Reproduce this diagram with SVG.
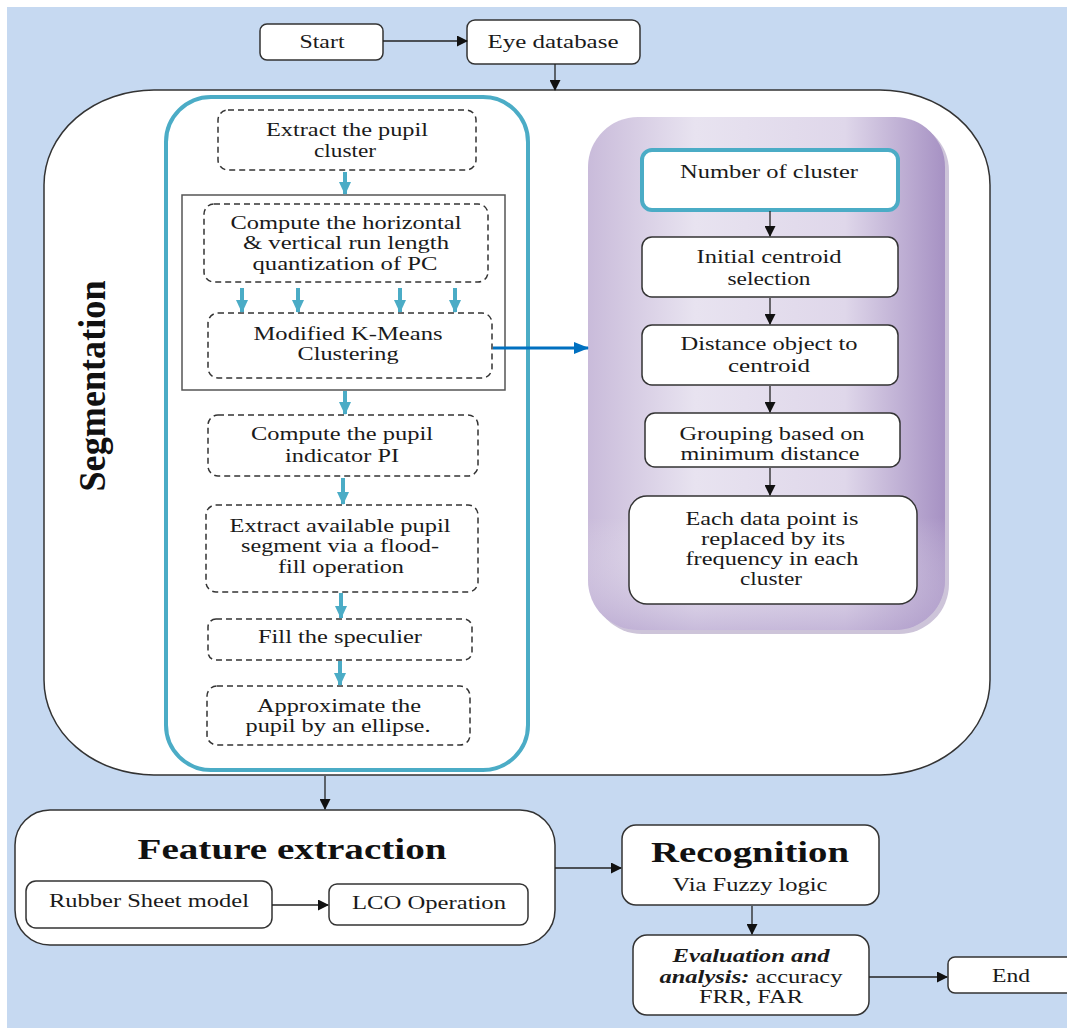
<svg xmlns="http://www.w3.org/2000/svg" width="1067" height="1028" viewBox="0 0 1067 1028">
<defs>
<style>
.t{font-family:"Liberation Serif","Times New Roman",serif;font-size:18px;fill:#1a1a1a;text-anchor:middle}
.h{font-family:"Liberation Serif","Times New Roman",serif;font-weight:bold;font-size:30px;fill:#111;text-anchor:middle}
.b{stroke:#333;stroke-width:1.5;fill:#fff}
.d{stroke:#333;stroke-width:1.5;fill:#fff;stroke-dasharray:6 4}
.c{stroke:#222;stroke-width:1.3;fill:none;marker-end:url(#ah)}
.cy{stroke:#4bacc6;stroke-width:4;fill:none;marker-end:url(#ac)}
</style>
<marker id="ah" markerWidth="11" markerHeight="11" refX="10" refY="5.5" orient="auto" markerUnits="userSpaceOnUse"><path d="M0,0 L11,5.5 L0,11 z" fill="#111"/></marker>
<marker id="ac" markerWidth="14" markerHeight="12" refX="12" refY="6" orient="auto" markerUnits="userSpaceOnUse"><path d="M0,0 L13,6 L0,12 z" fill="#4bacc6"/></marker>
<marker id="ab" markerWidth="16" markerHeight="12" refX="14" refY="6" orient="auto" markerUnits="userSpaceOnUse"><path d="M0,0 L15,6 L0,12 z" fill="#0070c0"/></marker>
<linearGradient id="pg" x1="0" y1="0" x2="1" y2="0">
<stop offset="0" stop-color="#c9bbda"/>
<stop offset="0.3" stop-color="#e8e3f0"/>
<stop offset="0.72" stop-color="#dfd7ea"/>
<stop offset="1" stop-color="#a691c3"/>
</linearGradient>
<linearGradient id="pg2" x1="0" y1="0" x2="0" y2="1">
<stop offset="0.78" stop-color="#ffffff" stop-opacity="0"/>
<stop offset="1" stop-color="#b3a1cd" stop-opacity="0.6"/>
</linearGradient>
</defs>
<rect x="0" y="0" width="1067" height="1028" fill="#fff"/>
<rect x="7" y="7" width="1060" height="1021" fill="#c6d9f1"/>

<g id="start"><rect class="b" x="260" y="24" width="123" height="36" rx="7"/><text class="t" x="322" y="48" textLength="45" lengthAdjust="spacingAndGlyphs">Start</text></g>
<g id="eye-database"><rect class="b" x="467" y="20" width="173" height="44" rx="8"/><text class="t" x="553" y="48" textLength="131" lengthAdjust="spacingAndGlyphs">Eye database</text></g>

<g id="segmentation">
<rect x="44" y="90" width="946" height="685" rx="110" ry="95" fill="#fff" stroke="#333" stroke-width="1.5"/>
<text x="0" y="0" transform="translate(105,386) rotate(-90)" font-family="'Liberation Serif','Times New Roman',serif" font-weight="bold" font-size="37" text-anchor="middle" fill="#111" textLength="211" lengthAdjust="spacingAndGlyphs">Segmentation</text>
</g>

<g id="left-panel"><rect x="166" y="97" width="362" height="673" rx="45" fill="#fff" stroke="#4bacc6" stroke-width="4"/></g>

<g id="extract-pupil-cluster"><rect class="d" x="218" y="110" width="258" height="60" rx="10"/><text class="t" x="347" y="136" textLength="162" lengthAdjust="spacingAndGlyphs">Extract the pupil</text><text class="t" x="345" y="157" textLength="62" lengthAdjust="spacingAndGlyphs">cluster</text></g>
<g id="run-length-group"><rect x="182" y="195" width="323" height="195" fill="none" stroke="#555" stroke-width="1.5"/></g>
<g id="compute-run-length"><rect class="d" x="204" y="204" width="284" height="78" rx="10"/><text class="t" x="346" y="229" textLength="231" lengthAdjust="spacingAndGlyphs">Compute the horizontal</text><text class="t" x="346" y="249" textLength="206" lengthAdjust="spacingAndGlyphs">&amp; vertical run length</text><text class="t" x="345" y="270" textLength="185" lengthAdjust="spacingAndGlyphs">quantization of PC</text></g>
<g id="modified-kmeans"><rect class="d" x="208" y="313" width="284" height="65" rx="10"/><text class="t" x="348" y="340" textLength="189" lengthAdjust="spacingAndGlyphs">Modified K-Means</text><text class="t" x="348" y="360" textLength="101" lengthAdjust="spacingAndGlyphs">Clustering</text></g>
<g id="pupil-indicator"><rect class="d" x="208" y="415" width="270" height="61" rx="10"/><text class="t" x="342" y="440" textLength="182" lengthAdjust="spacingAndGlyphs">Compute the pupil</text><text class="t" x="342" y="462" textLength="114" lengthAdjust="spacingAndGlyphs">indicator PI</text></g>
<g id="flood-fill"><rect class="d" x="206" y="505" width="272" height="87" rx="10"/><text class="t" x="340" y="532" textLength="221" lengthAdjust="spacingAndGlyphs">Extract available pupil</text><text class="t" x="340" y="552" textLength="198" lengthAdjust="spacingAndGlyphs">segment via a flood-</text><text class="t" x="341" y="573" textLength="126" lengthAdjust="spacingAndGlyphs">fill operation</text></g>
<g id="fill-speculier"><rect class="d" x="208" y="619" width="264" height="41" rx="8"/><text class="t" x="340" y="643" textLength="164" lengthAdjust="spacingAndGlyphs">Fill the speculier</text></g>
<g id="approximate-ellipse"><rect class="d" x="207" y="686" width="263" height="59" rx="10"/><text class="t" x="339" y="712" textLength="164" lengthAdjust="spacingAndGlyphs">Approximate the</text><text class="t" x="338" y="732" textLength="185" lengthAdjust="spacingAndGlyphs">pupil by an ellipse.</text></g>

<g id="kmeans-panel">
<rect x="592" y="121" width="357" height="513" rx="50" fill="#9c8ab4" opacity="0.5"/>
<rect x="588" y="117" width="357" height="513" rx="50" fill="url(#pg)"/>
<rect x="588" y="117" width="357" height="513" rx="50" fill="url(#pg2)"/>
</g>
<g id="number-of-cluster"><rect x="642" y="150" width="256" height="60" rx="10" fill="#fff" stroke="#4bacc6" stroke-width="4"/><text class="t" x="769" y="178" textLength="178" lengthAdjust="spacingAndGlyphs">Number of cluster</text></g>
<g id="initial-centroid"><rect class="b" x="642" y="237" width="256" height="60" rx="10"/><text class="t" x="769" y="263" textLength="145" lengthAdjust="spacingAndGlyphs">Initial centroid</text><text class="t" x="769" y="285" textLength="83" lengthAdjust="spacingAndGlyphs">selection</text></g>
<g id="distance-object"><rect class="b" x="642" y="325" width="256" height="60" rx="10"/><text class="t" x="769" y="350" textLength="177" lengthAdjust="spacingAndGlyphs">Distance object to</text><text class="t" x="769" y="372" textLength="82" lengthAdjust="spacingAndGlyphs">centroid</text></g>
<g id="grouping"><rect class="b" x="645" y="413" width="255" height="54" rx="10"/><text class="t" x="772" y="440" textLength="185" lengthAdjust="spacingAndGlyphs">Grouping based on</text><text class="t" x="770" y="460" textLength="179" lengthAdjust="spacingAndGlyphs">minimum distance</text></g>
<g id="each-data-point"><rect class="b" x="629" y="496" width="288" height="108" rx="18"/><text class="t" x="772" y="525" textLength="173" lengthAdjust="spacingAndGlyphs">Each data point is</text><text class="t" x="773" y="545" textLength="144" lengthAdjust="spacingAndGlyphs">replaced by its</text><text class="t" x="772" y="565" textLength="173" lengthAdjust="spacingAndGlyphs">frequency in each</text><text class="t" x="771" y="585" textLength="62" lengthAdjust="spacingAndGlyphs">cluster</text></g>

<g id="feature-extraction"><rect class="b" x="15" y="810" width="540" height="135" rx="35"/><text class="h" x="292" y="859" textLength="309" lengthAdjust="spacingAndGlyphs">Feature extraction</text></g>
<g id="rubber-sheet"><rect class="b" x="26" y="881" width="246" height="47" rx="10"/><text class="t" x="149" y="907" textLength="200" lengthAdjust="spacingAndGlyphs">Rubber Sheet model</text></g>
<g id="lco-operation"><rect class="b" x="329" y="884" width="199" height="41" rx="8"/><text class="t" x="429" y="909" textLength="154" lengthAdjust="spacingAndGlyphs">LCO Operation</text></g>

<g id="recognition"><rect class="b" x="622" y="825" width="257" height="80" rx="14"/><text class="h" x="750" y="862" textLength="198" lengthAdjust="spacingAndGlyphs">Recognition</text><text class="t" x="750" y="891" textLength="155" lengthAdjust="spacingAndGlyphs">Via Fuzzy logic</text></g>
<g id="evaluation"><rect class="b" x="633" y="935" width="236" height="80" rx="14"/><text class="t" x="751" y="962" font-weight="bold" font-style="italic" textLength="157" lengthAdjust="spacingAndGlyphs">Evaluation and</text><text class="t" x="751" y="983" textLength="183" lengthAdjust="spacingAndGlyphs"><tspan font-weight="bold" font-style="italic">analysis:</tspan> accuracy</text><text class="t" x="751" y="1003" textLength="104" lengthAdjust="spacingAndGlyphs">FRR, FAR</text></g>
<g id="end"><rect class="b" x="948" y="957" width="125" height="36" rx="7"/><text class="t" x="1011" y="982" textLength="38" lengthAdjust="spacingAndGlyphs">End</text></g>

<g id="connectors">
<path class="c" d="M383,41 H467"/>
<path class="c" d="M555,64 V90"/>
<path class="cy" d="M345,172 V194"/>
<path class="cy" d="M242,288 V312"/>
<path class="cy" d="M298,288 V312"/>
<path class="cy" d="M400,288 V312"/>
<path class="cy" d="M455,288 V312"/>
<path class="cy" d="M345,391 V414"/>
<path class="cy" d="M343,478 V504"/>
<path class="cy" d="M341,593 V618"/>
<path class="cy" d="M340,661 V685"/>
<path d="M493,348 H588" stroke="#0070c0" stroke-width="3" fill="none" marker-end="url(#ab)"/>
<path class="c" d="M770,211 V236"/>
<path class="c" d="M770,298 V324"/>
<path class="c" d="M770,386 V412"/>
<path class="c" d="M770,468 V495"/>
<path class="c" d="M325,776 V809"/>
<path class="c" d="M272,905 H328"/>
<path class="c" d="M555,868 H621"/>
<path class="c" d="M752,906 V934"/>
<path class="c" d="M869,977 H947"/>
</g>
</svg>
